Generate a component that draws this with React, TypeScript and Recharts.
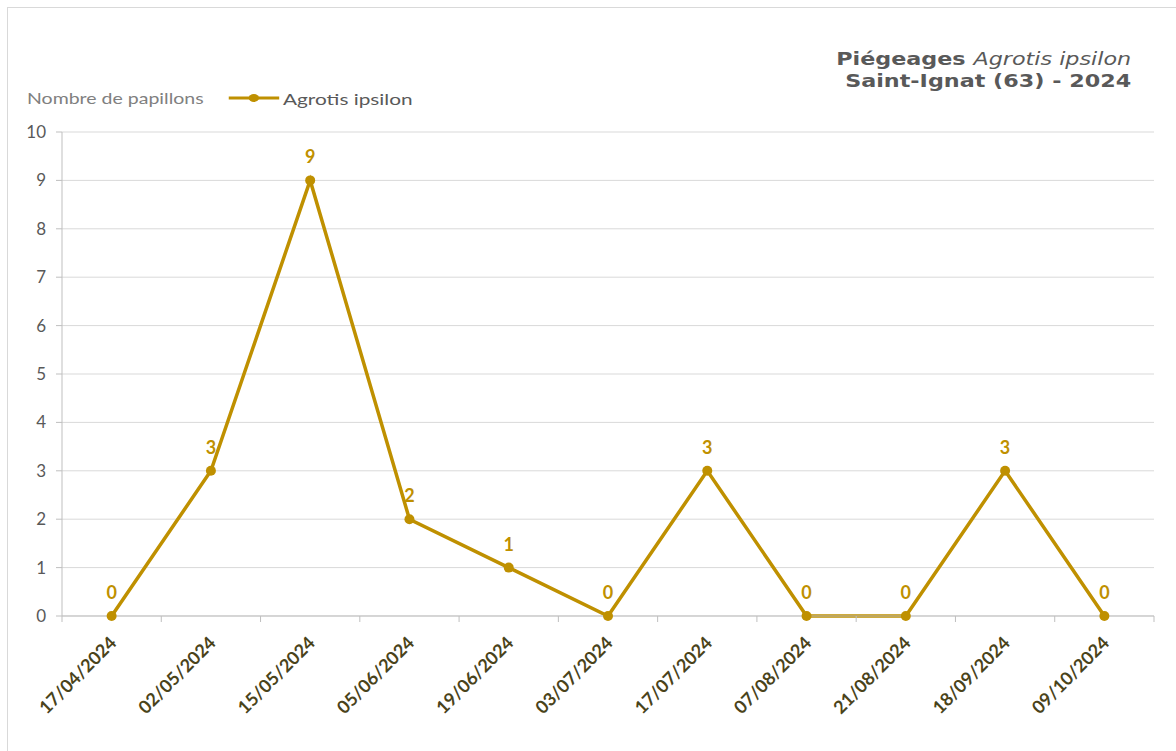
import { LineChart, Line, XAxis, YAxis, CartesianGrid, LabelList } from "recharts";

const dates = [
  "17/04/2024",
  "02/05/2024",
  "15/05/2024",
  "05/06/2024",
  "19/06/2024",
  "03/07/2024",
  "17/07/2024",
  "07/08/2024",
  "21/08/2024",
  "18/09/2024",
  "09/10/2024",
];
const papillons = [0, 3, 9, 2, 1, 0, 3, 0, 0, 3, 0];
const yTicks = [0, 1, 2, 3, 4, 5, 6, 7, 8, 9, 10];

const data = dates.map((date, i) => ({ date, agrotis: papillons[i] }));

const GOLD = "#BF9000";
const AXIS = "#BFBFBF";

// tick rotated -45°, with the tick mark drawn on the left border of each band
const DateTick = (props: any) => {
  const { x, y, payload, index } = props;
  const half = payload && payload.offset ? payload.offset : 49.6;
  return (
    <g>
      <line x1={x - half} y1={y - 8} x2={x - half} y2={y - 2} stroke={AXIS} />
      {index === dates.length - 1 && (
        <line x1={x + half} y1={y - 8} x2={x + half} y2={y - 2} stroke={AXIS} />
      )}
      <text
        x={0}
        y={0}
        transform={`translate(${x + 6},${y + 20}) rotate(-45)`}
        textAnchor="end"
        fill="#4A431A"
        fontSize={18}
        fontWeight={700}
        fontFamily="Lato, 'Open Sans', sans-serif"
      >
        {payload.value}
      </text>
    </g>
  );
};

export default function App() {
  return (
    <div
      style={{
        position: "absolute",
        left: 0,
        top: 0,
        width: 1176,
        height: 751,
        background: "#fff",
        overflow: "hidden",
      }}
    >
      <div
        style={{
          position: "absolute",
          left: 7,
          top: 7,
          width: 1180,
          height: 760,
          border: "1px solid #D9D9D9",
        }}
      />
      {/* titre */}
      <div
        style={{
          position: "absolute",
          right: 45,
          top: 48,
          textAlign: "right",
          fontFamily: "'DejaVu Sans', Verdana, sans-serif",
          fontWeight: 700,
          fontSize: 17,
          lineHeight: "22px",
          color: "#595959",
          transform: "scaleX(1.31)",
          transformOrigin: "right center",
        }}
      >
        <div>
          Piégeages <span style={{ fontStyle: "italic", fontWeight: 400 }}>Agrotis ipsilon</span>
        </div>
        <div>Saint-Ignat (63) - 2024</div>
      </div>
      {/* légende */}
      <div
        style={{
          position: "absolute",
          left: 27,
          top: 86,
          display: "flex",
          alignItems: "center",
          fontFamily: "Lato, sans-serif",
          height: 24,
          transform: "scaleX(1.3)",
          transformOrigin: "left center",
        }}
      >
        <span style={{ color: "#808080", fontSize: 15 }}>Nombre de papillons</span>
        <svg width={40} height={12} style={{ marginLeft: 19 }}>
          <line x1={0} y1={6} x2={39} y2={6} stroke={GOLD} strokeWidth={3} />
          <circle cx={19.5} cy={6} r={4} fill={GOLD} />
        </svg>
        <span style={{ marginLeft: 2, color: "#595959", fontSize: 16 }}>Agrotis ipsilon</span>
      </div>
      <LineChart
        width={1176}
        height={751}
        data={data}
        margin={{ top: 132, right: 22, left: 0, bottom: 0 }}
        style={{ position: "absolute", left: 0, top: 0 }}
      >
        <CartesianGrid vertical={false} stroke="#D9D9D9" />
        <XAxis
          dataKey="date"
          scale="band"
          height={135}
          interval={0}
          stroke={AXIS}
          tickLine={false}
          tick={<DateTick />}
        />
        <YAxis
          width={62}
          domain={[0, 10]}
          ticks={yTicks}
          interval={0}
          stroke={AXIS}
          tickSize={6}
          tickMargin={10}
          tick={{ fill: "#595959", fontSize: 17, fontFamily: "Lato, sans-serif" }}
        />
        <Line
          type="linear"
          dataKey="agrotis"
          name="Agrotis ipsilon"
          stroke={GOLD}
          strokeWidth={3.5}
          dot={{ r: 5, fill: GOLD, stroke: GOLD, strokeWidth: 0 }}
          isAnimationActive={false}
        >
          <LabelList
            dataKey="agrotis"
            position="top"
            offset={17}
            fill={GOLD}
            fontSize={18}
            fontWeight={700}
            fontFamily="Lato, sans-serif"
          />
        </Line>
      </LineChart>
    </div>
  );
}
